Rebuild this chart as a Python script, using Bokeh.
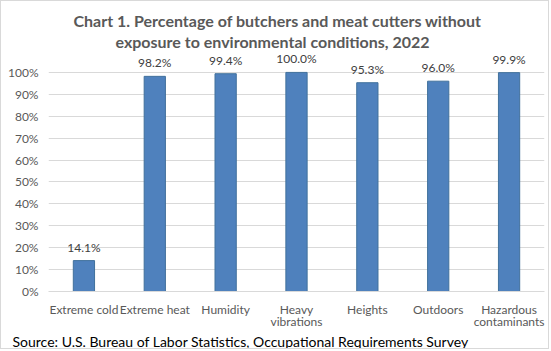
from bokeh.plotting import figure
from bokeh.models import ColumnDataSource, FixedTicker, Title, CustomJSTickFormatter
from bokeh.core.properties import value
from bokeh.embed import file_html
from bokeh.resources import INLINE

categories = ["Extreme cold", "Extreme heat", "Humidity", "Heavy\nvibrations",
              "Heights", "Outdoors", "Hazardous\ncontaminants"]
values = [14.1, 98.2, 99.4, 100.0, 95.3, 96.0, 99.9]
labels = ["14.1%", "98.2%", "99.4%", "100.0%", "95.3%", "96.0%", "99.9%"]
y_ticks = [0, 10, 20, 30, 40, 50, 60, 70, 80, 90, 100]
title_lines = ["Chart 1. Percentage of butchers and meat cutters without",
               "exposure to environmental conditions, 2022"]
source_text = "Source: U.S. Bureau of Labor Statistics, Occupational Requirements Survey"

FONT = "Lato"
src = ColumnDataSource(dict(cat=categories, val=values, lab=labels))

p = figure(x_range=categories, y_range=(0, 110), width=549, height=349,
           output_backend="svg", toolbar_location=None,
           min_border_left=47, min_border_right=6, min_border_top=49, min_border_bottom=57,
           styles={"border": "1px solid #d9d9d9"})

p.vbar(x="cat", top="val", width=0.3, source=src,
       fill_color="#4f81bd", line_color="#41719c", line_width=1)
p.text(x="cat", y="val", text="lab", source=src, y_offset=-6,
       text_align="center", text_baseline="bottom",
       text_font=value(FONT), text_font_size="12px", text_color="#404040")

p.outline_line_color = None
p.xgrid.grid_line_color = None
p.ygrid.grid_line_color = "#d9d9d9"
p.ygrid.ticker = FixedTicker(ticks=y_ticks)

p.yaxis.ticker = FixedTicker(ticks=y_ticks)
p.yaxis.formatter = CustomJSTickFormatter(code="return tick + '%';")
p.yaxis.axis_line_color = None
p.yaxis.major_tick_line_color = None
p.yaxis.major_tick_out = 0
p.yaxis.minor_tick_line_color = None
p.yaxis.major_label_text_font = FONT
p.yaxis.major_label_text_font_size = "12px"
p.yaxis.major_label_text_color = "#595959"
p.yaxis.major_label_standoff = 10

p.xaxis.axis_line_color = "#d9d9d9"
p.xaxis.major_tick_line_color = None
p.xaxis.major_tick_out = 0
p.xaxis.minor_tick_line_color = None
p.xaxis.major_label_text_font = FONT
p.xaxis.major_label_text_font_size = "12px"
p.xaxis.major_label_text_color = "#595959"
p.xaxis.major_label_text_line_height = 0.8
p.xaxis.major_label_standoff = 10

for txt, off in zip(reversed(title_lines), [67, 25]):
    p.add_layout(Title(text=txt, align="left", offset=off, standoff=0,
                       text_font=FONT, text_font_size="16px", text_font_style="bold",
                       text_color="#595959"), "above")

p.add_layout(Title(text=source_text, align="left", offset=-36, standoff=0,
                   vertical_align="middle", text_line_height=1.0,
                   text_font=FONT, text_font_size="14px", text_font_style="normal",
                   text_color="#000000"), "below")

open("out.html", "w").write(file_html(p, INLINE))
